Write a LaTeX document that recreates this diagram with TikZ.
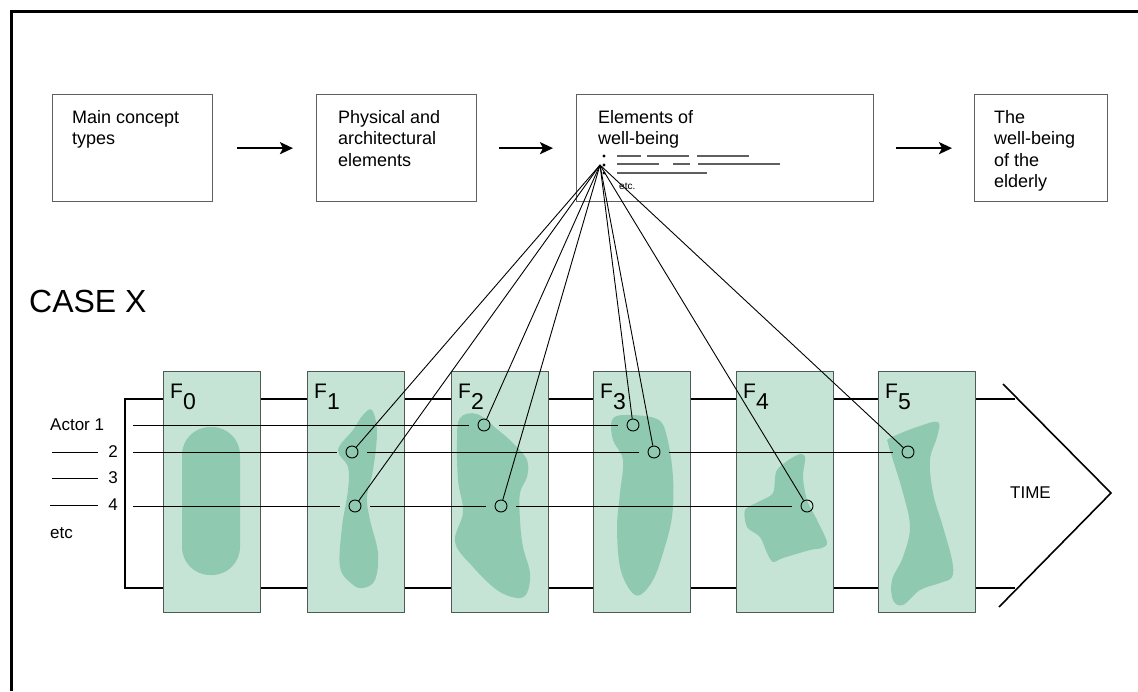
\documentclass[tikz,border=0pt]{standalone}
\usepackage{fontspec}
\setmainfont{Liberation Sans}
\usepackage{xcolor}
\usepackage{tikz}
\usetikzlibrary{arrows.meta}

\definecolor{framegreen}{RGB}{197,228,214}
\definecolor{blobgreen}{RGB}{143,202,176}
\definecolor{frameedge}{RGB}{80,90,86}
\definecolor{boxgray}{RGB}{95,95,95}

\begin{document}
\begin{tikzpicture}[x=1pt,y=-1pt,
  conceptbox/.style={draw=boxgray, line width=1.3pt, anchor=north west, inner sep=0pt, minimum height=107pt},
  boxtext/.style={anchor=north west, inner sep=0pt, align=left, font=\fontsize{18}{21.5}\selectfont},
  flow/.style={line width=2.2pt, -{Stealth[length=13pt,width=12pt,inset=3pt]}},
  timeframe/.style={draw=frameedge, line width=1.3pt, fill=framegreen, anchor=north west, inner sep=0pt, minimum width=97pt, minimum height=241pt},
  blob/.style={fill=blobgreen},
  band/.style={line width=2.4pt},
  actorline/.style={line width=0.9pt},
  hit/.style={circle, draw, line width=0.9pt, minimum size=12pt, inner sep=0pt},
  link/.style={line width=0.9pt},
  lbl/.style={inner sep=0pt, font=\fontsize{17}{17}\selectfont}]
% case study over time - concepts linked to the elements of well-being
\useasboundingbox (0,0) rectangle (1138,691);
\draw[line width=3pt] (11.5,691) -- (11.5,11.5) -- (1138,11.5);

% top row
\node[conceptbox, minimum width=160pt] (box1) at (52,94) {};
\node[conceptbox, minimum width=160pt] (box2) at (316,94) {};
\node[conceptbox, minimum width=297pt] (box3) at (576,94) {};
\node[conceptbox, minimum width=133pt] (box4) at (974,94) {};

\node[boxtext] (t1) at ([shift={(20pt,-16pt)}]box1.north west) {Main concept\\types};
\node[boxtext] (t2) at ([shift={(22pt,-16pt)}]box2.north west) {Physical and\\architectural\\elements};
\node[boxtext] (t3) at ([shift={(22pt,-16pt)}]box3.north west) {Elements of\\well-being};
\node[boxtext] (t4) at ([shift={(20pt,-16pt)}]box4.north west) {The\\well-being\\of the\\elderly};

\draw[flow, shorten <=24pt, shorten >=23pt] (box1.east) -- (box2.west);
\draw[flow, shorten <=22pt, shorten >=23pt] (box2.east) -- (box3.west);
\draw[flow, shorten <=22pt, shorten >=22pt] (box3.east) -- (box4.west);

% list inside box 3
\foreach \y in {156,165,173}
  \fill (604,\y) circle (1.6pt);
\draw[line width=1.1pt, boxgray] (617,156) -- (641,156) (647,156) -- (689,156) (697,156) -- (749,156)
  (617,164) -- (659,164) (673,164) -- (690,164) (698,164) -- (780,164)
  (617,173) -- (707,173);
\node[anchor=base west, inner sep=0pt, font=\fontsize{10}{10}\selectfont] (etc3) at (619,189) {etc.};
\coordinate (hub) at (600,165);

\node[anchor=base west, inner sep=0pt, font=\fontsize{32}{32}\selectfont] (casex) at (29,312) {CASE X};

% time band
\draw[band] (1015,399) -- (125,399) -- (125,588) -- (1015,588);
\draw[line width=1.6pt] (1003,384) -- (1111,493) -- (999,607);
\node[lbl, anchor=west] (time) at (1010,493) {TIME};

\foreach \i/\x in {0/163,1/307,2/451,3/593,4/736,5/878} {
  \node[timeframe] (f\i) at (\x,371) {};
  \node[anchor=base west, inner sep=0pt, font=\fontsize{21}{21}\selectfont] (fl\i) at ([shift={(7pt,-27pt)}]f\i.north west) {F\raisebox{-11pt}{\fontsize{23}{23}\selectfont\i}};
}

% shapes in the frames
\fill[blob, rounded corners=28pt] (182,427) rectangle (240,575);
\fill[blob] plot[smooth cycle, tension=0.6] coordinates {(372,410) (377,432) (373,470) (367,497) (370,520) (378,553) (375,580) (363,588) (352,584) (340,567) (342,527) (348,490) (348,467) (338,450) (353,430) (363,415)};
\fill[blob] plot[smooth cycle, tension=0.6] coordinates {(460,418) (477,414) (498,430) (513,443) (527,460) (527,477) (520,493) (520,520) (523,547) (530,573) (527,593) (517,598) (497,590) (473,567) (455,542) (463,512) (458,480) (457,440)};
\fill[blob] plot[smooth cycle, tension=0.6] coordinates {(612,420) (625,415) (657,419) (667,437) (673,477) (672,517) (663,553) (653,580) (640,595) (630,590) (620,567) (617,527) (620,493) (623,460) (613,440)};
\fill[blob] plot[smooth cycle, tension=0.5] coordinates {(797,455) (805,457) (803,477) (807,500) (817,520) (827,542) (822,548) (810,550) (783,558) (773,562) (767,553) (760,537) (747,527) (745,510) (758,502) (773,493) (777,470)};
\fill[blob] plot[smooth cycle, tension=0.6] coordinates {(890,438) (917,427) (938,422) (937,437) (930,460) (933,493) (943,527) (952,560) (952,577) (940,583) (920,590) (903,605) (893,600) (892,580) (903,557) (910,527) (903,493) (893,460) (888,443)};

% actors
\node[lbl, anchor=west] (actor1) at (50,425) {Actor 1};
\node[lbl, anchor=east] (actor2) at (118,452) {2};
\node[lbl, anchor=east] (actor3) at (118,478) {3};
\node[lbl, anchor=east] (actor4) at (118,505) {4};
\node[lbl, anchor=west] (actoretc) at (50,533) {etc};
\draw[actorline] (52,452) -- ([xshift=-10pt]actor2.west);
\draw[actorline] (52,478) -- ([xshift=-10pt]actor3.west);
\draw[actorline] (50,505) -- ([xshift=-10pt]actor4.west);

\coordinate (a1) at (133,425);
\coordinate (a2) at (133,452);
\coordinate (a4) at (133,506);

\node[hit] (c1f2) at (484,425) {};
\node[hit] (c1f3) at (633,425) {};
\node[hit] (c2f1) at (352,452) {};
\node[hit] (c2f3) at (654,452) {};
\node[hit] (c2f5) at (908,452) {};
\node[hit] (c4f1) at (355,506) {};
\node[hit] (c4f2) at (501,506) {};
\node[hit] (c4f4) at (807,506) {};

\draw[actorline, shorten >=9pt] (a1) -- (c1f2);
\draw[actorline, shorten <=9pt, shorten >=9pt] (c1f2) -- (c1f3);
\draw[actorline, shorten >=9pt] (a2) -- (c2f1);
\draw[actorline, shorten <=9pt, shorten >=9pt] (c2f1) -- (c2f3);
\draw[actorline, shorten <=9pt, shorten >=9pt] (c2f3) -- (c2f5);
\draw[actorline, shorten >=9pt] (a4) -- (c4f1);
\draw[actorline, shorten <=9pt, shorten >=9pt] (c4f1) -- (c4f2);
\draw[actorline, shorten <=9pt, shorten >=9pt] (c4f2) -- (c4f4);

% links to the elements of well-being
\foreach \c in {c2f1,c4f1,c1f2,c4f2,c1f3,c2f3,c4f4,c2f5}
  \draw[link] (hub) -- (\c);

\end{tikzpicture}
\end{document}
